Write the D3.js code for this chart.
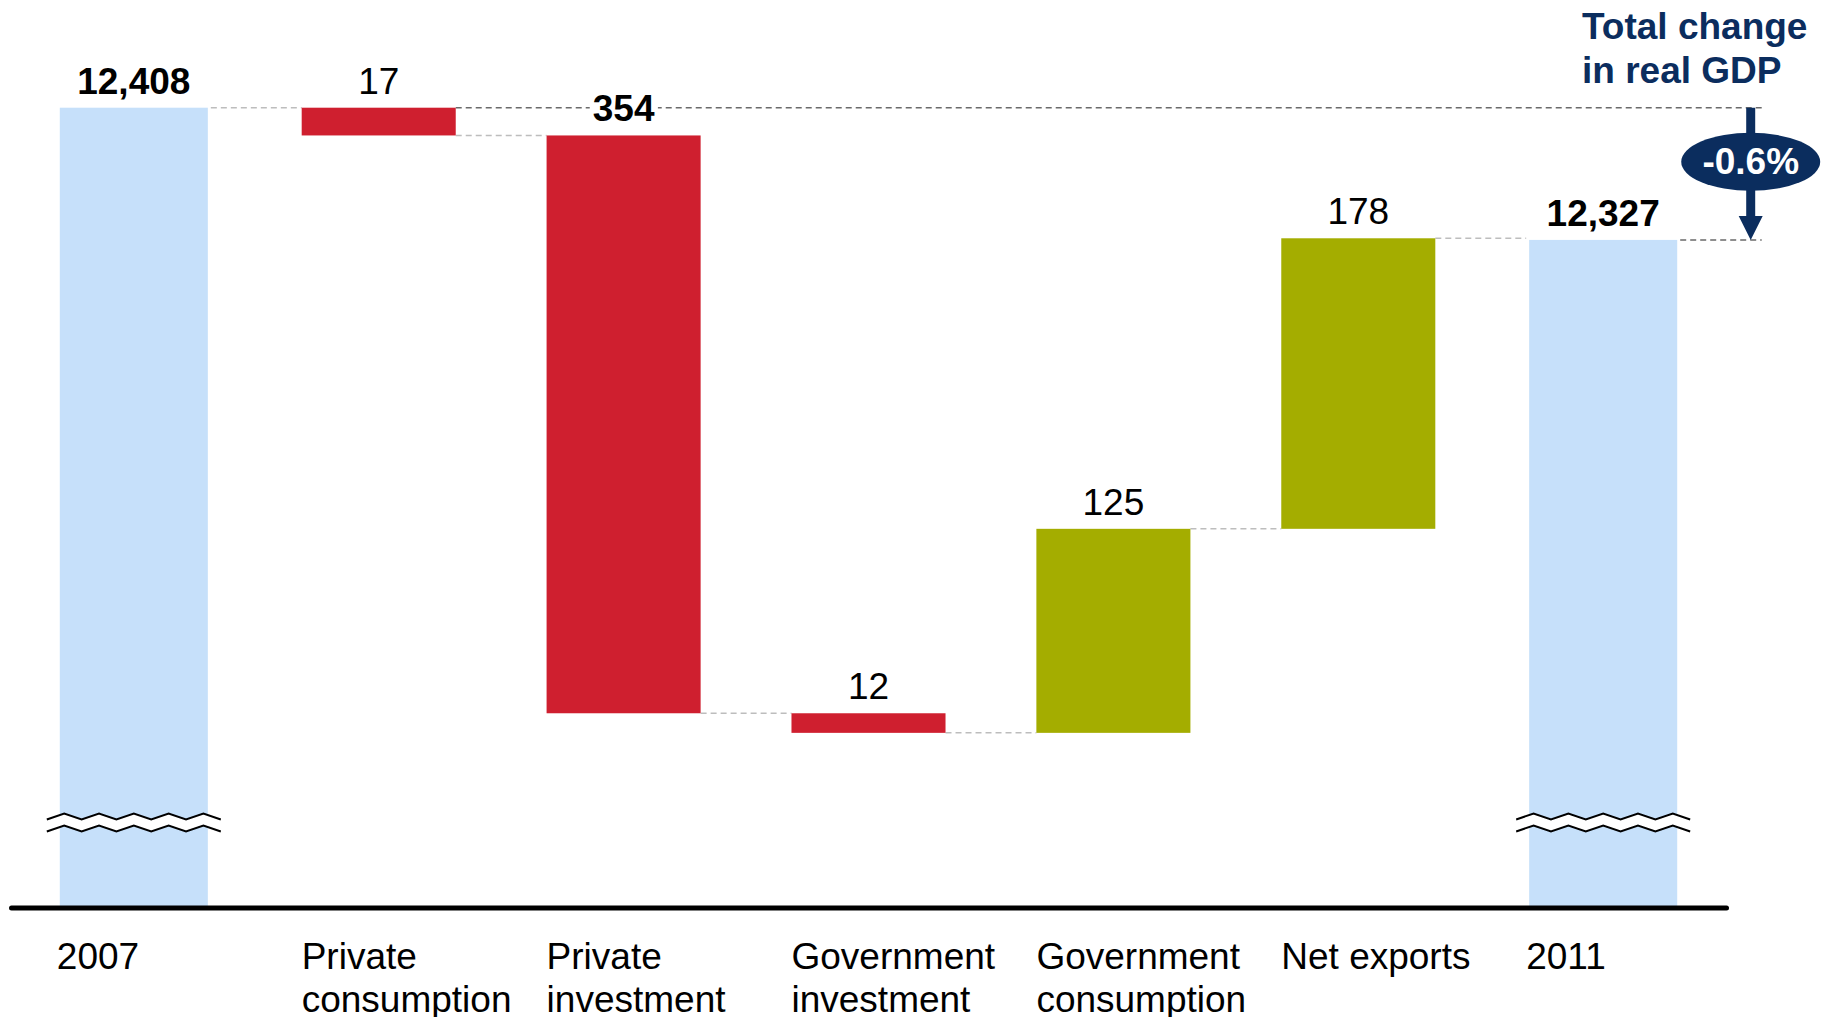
<!DOCTYPE html>
<html>
<head>
<meta charset="utf-8">
<script src="https://cdn.jsdelivr.net/npm/d3@7"></script>
<style>
  body { margin: 0; background: #fff; }
  text { font-family: "Liberation Sans", Arial, Helvetica, sans-serif; }
</style>
</head>
<body>
<svg id="chart"></svg>
<script>
// data
const categories = ["2007", "Private consumption", "Private investment", "Government investment",
  "Government consumption", "Net exports", "2011"];
const tickLines = [["2007"], ["Private", "consumption"], ["Private", "investment"],
  ["Government", "investment"], ["Government", "consumption"], ["Net exports"], ["2011"]];
const startValue = 12408;
const endValue = 12327;
const changes = [-17, -354, -12, 125, 178];
const valueLabels = ["12,408", "17", "354", "12", "125", "178", "12,327"];
const boldCategories = ["2007", "Private investment", "2011"];
const totalChangeLabel = "-0.6%";
const annotationLines = ["Total change", "in real GDP"];

const colors = { total: "#c6e0fa", neg: "#cf1f2f", pos: "#a4ad00", navy: "#0b2d5e" };

const width = 1830, height = 1017;
const axisY = 907.5, topY = 107.7;
const yMin = 11918;

const svg = d3.select("#chart").attr("width", width).attr("height", height);

// scales
const x = d3.scaleBand()
  .domain(categories)
  .range([11, 1726])
  .paddingInner(0.371)
  .paddingOuter(0.187);
const bw = x.bandwidth();

const y = d3.scaleLinear()
  .domain([yMin, startValue])
  .range([axisY, topY]);

// build waterfall
let running = startValue;
const bars = categories.map((c, i) => {
  if (i === 0) return { cat: c, lo: yMin, hi: startValue, type: "total", level: startValue };
  if (i === categories.length - 1) return { cat: c, lo: yMin, hi: endValue, type: "total", level: endValue };
  const prev = running;
  running += changes[i - 1];
  return { cat: c, lo: Math.min(prev, running), hi: Math.max(prev, running),
    type: changes[i - 1] < 0 ? "neg" : "pos", level: running };
});

// connectors
const connectors = bars.slice(0, -1).map((b, i) => ({
  x1: x(b.cat) + bw, x2: x(bars[i + 1].cat), v: b.level
}));
svg.append("g").selectAll("line")
  .data(connectors)
  .enter().append("line")
  .attr("x1", d => d.x1).attr("x2", d => d.x2)
  .attr("y1", d => y(d.v)).attr("y2", d => y(d.v))
  .attr("stroke", "#bdbdbd").attr("stroke-width", 1.5)
  .attr("stroke-dasharray", "6 4");

// reference lines for total change
const arrowX = x(categories[6]) + bw + 70.5;
const refs = [
  { x1: x(categories[1]) + bw, v: startValue },
  { x1: x(categories[6]) + bw, v: endValue }
];
svg.append("g").selectAll("line")
  .data(refs)
  .enter().append("line")
  .attr("x1", d => d.x1).attr("x2", arrowX + 11)
  .attr("y1", d => y(d.v)).attr("y2", d => y(d.v))
  .attr("stroke", "#6a6a6a").attr("stroke-width", 1.5)
  .attr("stroke-dasharray", "6 4");

// bars
svg.append("g").selectAll("rect")
  .data(bars)
  .enter().append("rect")
  .attr("x", d => d.type === "total" ? x(d.cat) + 3 : x(d.cat))
  .attr("width", d => d.type === "total" ? bw - 6 : bw)
  .attr("y", d => y(d.hi))
  .attr("height", d => y(d.lo) - y(d.hi))
  .attr("fill", d => colors[d.type]);

// axis break marks on the total bars
const period = 34.8, amp = 6, gap = 12, breakY = axisY - 88;
bars.filter(d => d.type === "total").forEach(d => {
  const cx = x(d.cat) + bw / 2;
  const x0 = cx - period * 2.5;
  const pts = [];
  for (let k = 0; k <= 10; k++) pts.push([x0 + k * period / 2, k % 2 === 0 ? breakY : breakY - amp]);
  const lower = pts.map(p => [p[0], p[1] + gap]);
  const g = svg.append("g");
  g.append("path")
    .attr("d", d3.line()(pts.concat(lower.slice().reverse())) + "Z")
    .attr("fill", "#fff");
  [pts, lower].forEach(p => g.append("path")
    .attr("d", d3.line()(p))
    .attr("fill", "none").attr("stroke", "#000").attr("stroke-width", 2));
});

// value labels
const labels = svg.append("g").selectAll("g")
  .data(bars)
  .enter().append("g");
labels.append("text")
  .attr("x", d => x(d.cat) + bw / 2)
  .attr("y", d => y(d.hi) - 14)
  .attr("text-anchor", "middle")
  .attr("font-size", 37)
  .attr("font-weight", d => boldCategories.includes(d.cat) ? "bold" : "normal")
  .attr("fill", "#000")
  .text((d, i) => valueLabels[i]);
labels.each(function() {
  const t = d3.select(this).select("text");
  const bb = t.node().getBBox();
  d3.select(this).insert("rect", "text")
    .attr("x", bb.x - 3).attr("y", bb.y + 4)
    .attr("width", bb.width + 6).attr("height", bb.height - 8)
    .attr("fill", "#fff");
});

// x axis
const axis = svg.append("g")
  .attr("transform", `translate(0,${axisY})`)
  .call(d3.axisBottom(x).tickSize(0).tickSizeOuter(0));
axis.select(".domain")
  .attr("stroke", "#000").attr("stroke-width", 5).attr("stroke-linecap", "round");
axis.selectAll(".tick text")
  .attr("font-size", 37)
  .attr("font-family", "'Liberation Sans', Arial, sans-serif")
  .attr("fill", "#000")
  .attr("text-anchor", "start")
  .attr("dy", null)
  .attr("y", 61)
  .attr("x", -bw / 2)
  .text(null)
  .each(function(d) {
    const lines = tickLines[categories.indexOf(d)];
    d3.select(this).selectAll("tspan")
      .data(lines)
      .enter().append("tspan")
      .attr("x", -bw / 2)
      .attr("dy", (l, j) => j === 0 ? 0 : 43)
      .text(l => l);
  });

// total change annotation
const y1 = y(startValue), y2 = y(endValue);
svg.append("line")
  .attr("x1", arrowX).attr("x2", arrowX)
  .attr("y1", y1).attr("y2", y2 - 20)
  .attr("stroke", colors.navy).attr("stroke-width", 9);
svg.append("path")
  .attr("d", d3.line()([[arrowX - 12, y2 - 24], [arrowX + 12, y2 - 24], [arrowX, y2]]) + "Z")
  .attr("fill", colors.navy);
const ecy = (y1 + y2) / 2 - 12;
svg.append("ellipse")
  .attr("cx", arrowX).attr("cy", ecy)
  .attr("rx", 69.5).attr("ry", 29)
  .attr("fill", colors.navy);
svg.append("text")
  .attr("x", arrowX).attr("y", ecy + 12.5)
  .attr("text-anchor", "middle")
  .attr("font-size", 37).attr("font-weight", "bold")
  .attr("fill", "#fff")
  .text(totalChangeLabel);
svg.append("text")
  .attr("x", 1582).attr("y", 39)
  .attr("font-size", 37).attr("font-weight", "bold")
  .attr("fill", colors.navy)
  .selectAll("tspan")
  .data(annotationLines)
  .enter().append("tspan")
  .attr("x", 1582)
  .attr("dy", (d, i) => i === 0 ? 0 : 44)
  .text(d => d);
</script>
</body>
</html>
